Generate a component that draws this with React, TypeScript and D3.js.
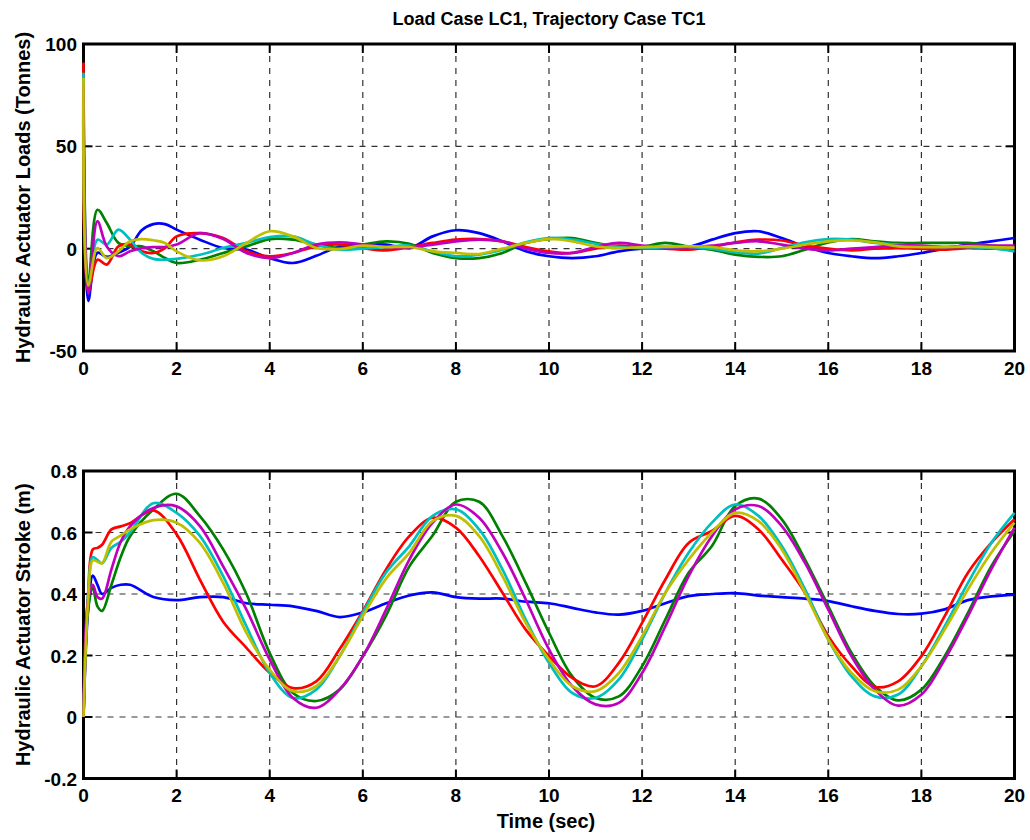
import React from "react";
import { scaleLinear, line, curveCatmullRom } from "d3";

// MATLAB default colour order
const seriesColors = ["#0000ff", "#008000", "#ff0000", "#00bfbf", "#bf00bf", "#bfbf00"];

// ---- top panel: actuator loads (tonnes)
const loadTime = [0, 0.1, 0.3, 0.5, 0.75, 1, 1.25, 1.5, 1.75, 2, 2.5, 3, 3.5, 4, 4.5, 5, 5.5, 6, 6.5, 7, 7.5, 8, 8.5, 9, 9.5, 10, 10.5, 11, 11.5, 12, 12.5, 13, 13.5, 14, 14.5, 15, 15.5, 16, 16.5, 17, 17.5, 18, 18.5, 19, 19.5, 20];
const loadBlue = [82, -25.5, -2, -4, -2, 1, 9, 12, 12, 9.3, 4.4, 0.3, -0.5, -4.6, -7, -3.5, 1, 2, 2, 0.3, 6, 9, 7.6, 3.6, -1.3, -3.7, -4.6, -3.7, -1.3, 0, 0.3, 0.8, 4.4, 7.6, 8.5, 5.2, 1.1, -2.1, -3.7, -4.6, -3.7, -2.1, 0, 2, 3.6, 5.2];
const loadGreen = [82, -18, 19, 12.5, 2.8, 1.1, 1.1, -1.3, -4.6, -7, -5.4, -2.1, 1.1, 4.7, 4.4, 2, 0.3, 2, 3.6, 2.4, -2.1, -4.6, -4.6, -2.1, 2.8, 4.7, 5.2, 2.8, 1.1, 1.1, 2.8, 1.1, -0.5, -2.9, -4, -3.7, -0.5, 3.1, 4.7, 3.6, 2.8, 2.8, 2.8, 2.8, 1.5, 0.3];
const loadRed = [91, -21, -5.4, -7.8, 1.1, 2, -1.3, -2.1, 0.3, 6, 7.6, 5.2, -1.3, -3.7, -2.1, 1.1, 2, 0.3, -0.8, 0.8, 2.8, 4.4, 4.7, 3.6, 0.8, -1.3, -2.1, 0, 1.5, 0.3, 0, -0.5, 0.8, 3.1, 4.4, 4, 1.5, 0, -0.8, 0, 0.3, 0, -0.5, 0.3, 0, 0];
const loadCyan = [86, -20, 4.4, 2, 9.3, 4.4, -2.1, -5, -5.4, -5, -3, 0.3, 2.8, 5.7, 6, 2, -0.5, 0, 0.8, 1.5, -1.3, -3.7, -2.9, -0.5, 3.1, 5.2, 4.4, 2.4, 0.8, 0.3, 0.5, 0.8, 0, -1.8, -2.4, 0.3, 3.1, 4.7, 4.4, 2.8, 2, 1.1, 0.8, 0.8, 0.3, -1.3];
const loadMagenta = [80, -22, 13.3, 1.1, -3.7, -1.3, 0.3, 0.8, 0.8, 2, 7.6, 4.7, -2.1, -4.6, -2.1, 2, 3.1, 2, 0.8, 0.8, 2, 3.6, 4.4, 3.6, 0, -2.1, -2.1, 0.8, 2.8, 1.5, 0.8, 0.8, 1.5, 2.8, 3.6, 2, 0, -0.8, 0, 0.8, 1.5, 1.5, 0.8, 1.5, 1.5, 1.5];
const loadYellow = [83.5, -18, 0.3, -4.6, -1.3, 3.6, 4.7, 4.1, 2.8, -1.3, -5.7, -3.7, 2.8, 8.5, 6, 0.3, -0.2, 1.5, 0.8, 0.8, -1.3, -2.1, -2.6, 0, 2.8, 4.7, 3.6, 1.1, 0.3, 0.8, 1, 1.1, 0.8, -0.8, -1.3, 0, 2, 3.6, 4, 3.1, 1.1, 0.8, 0.8, 1.1, 0.8, 0.5];

// ---- bottom panel: actuator stroke (m)
const strokeTime = [0, 0.1, 0.2, 0.3, 0.4, 0.6, 0.8, 1, 1.5, 2, 2.5, 3, 3.5, 4, 4.5, 5, 5.5, 6, 6.5, 7, 7.5, 8, 8.5, 9, 9.5, 10, 10.5, 11, 11.5, 12, 12.5, 13, 13.5, 14, 14.5, 15, 15.5, 16, 16.5, 17, 17.5, 18, 18.5, 19, 19.5, 20];
const strokeBlue = [0, 0.35, 0.46, 0.43, 0.4, 0.42, 0.43, 0.43, 0.39, 0.38, 0.39, 0.39, 0.37, 0.365, 0.36, 0.345, 0.325, 0.34, 0.37, 0.395, 0.405, 0.39, 0.385, 0.385, 0.375, 0.37, 0.355, 0.34, 0.333, 0.345, 0.37, 0.393, 0.4, 0.403, 0.395, 0.39, 0.385, 0.377, 0.36, 0.345, 0.335, 0.336, 0.35, 0.38, 0.392, 0.398];
const strokeGreen = [0, 0.35, 0.42, 0.36, 0.345, 0.43, 0.52, 0.588, 0.675, 0.726, 0.653, 0.545, 0.4, 0.208, 0.078, 0.052, 0.089, 0.197, 0.33, 0.49, 0.59, 0.7, 0.7, 0.588, 0.436, 0.274, 0.132, 0.062, 0.067, 0.165, 0.317, 0.469, 0.556, 0.686, 0.71, 0.643, 0.512, 0.36, 0.208, 0.1, 0.054, 0.089, 0.198, 0.339, 0.49, 0.605];
const strokeRed = [0, 0.4, 0.545, 0.55, 0.56, 0.61, 0.62, 0.63, 0.672, 0.594, 0.447, 0.31, 0.225, 0.144, 0.094, 0.116, 0.22, 0.344, 0.48, 0.588, 0.648, 0.616, 0.523, 0.404, 0.284, 0.198, 0.127, 0.1, 0.176, 0.306, 0.447, 0.566, 0.605, 0.654, 0.61, 0.512, 0.404, 0.263, 0.165, 0.098, 0.116, 0.198, 0.328, 0.469, 0.566, 0.643];
const strokeCyan = [0, 0.4, 0.52, 0.51, 0.5, 0.55, 0.57, 0.6, 0.695, 0.664, 0.589, 0.458, 0.295, 0.143, 0.062, 0.089, 0.197, 0.339, 0.47, 0.556, 0.654, 0.675, 0.61, 0.48, 0.317, 0.176, 0.078, 0.062, 0.122, 0.252, 0.404, 0.534, 0.632, 0.691, 0.654, 0.556, 0.415, 0.252, 0.132, 0.067, 0.073, 0.165, 0.295, 0.436, 0.566, 0.664];
const strokeMagenta = [0, 0.38, 0.43, 0.39, 0.385, 0.48, 0.57, 0.62, 0.68, 0.685, 0.621, 0.49, 0.349, 0.187, 0.062, 0.03, 0.089, 0.197, 0.349, 0.512, 0.632, 0.691, 0.648, 0.534, 0.382, 0.22, 0.1, 0.041, 0.046, 0.143, 0.295, 0.458, 0.588, 0.675, 0.686, 0.621, 0.501, 0.349, 0.197, 0.089, 0.037, 0.073, 0.187, 0.328, 0.48, 0.616];
const strokeYellow = [0, 0.38, 0.51, 0.505, 0.5, 0.57, 0.59, 0.61, 0.64, 0.632, 0.566, 0.436, 0.274, 0.154, 0.084, 0.1, 0.197, 0.328, 0.45, 0.534, 0.637, 0.654, 0.588, 0.458, 0.306, 0.187, 0.1, 0.084, 0.143, 0.263, 0.404, 0.512, 0.6, 0.664, 0.637, 0.545, 0.404, 0.252, 0.143, 0.084, 0.089, 0.165, 0.284, 0.415, 0.534, 0.632];

const timeTicks = [0, 2, 4, 6, 8, 10, 12, 14, 16, 18, 20];
const loadTicks = [-50, 0, 50, 100];
const strokeTicks = [-0.2, 0, 0.2, 0.4, 0.6, 0.8];

const FONT = "'Liberation Sans', Arial, sans-serif";

const Panel = ({ top, bottom, time, series, yDomain, yTicks, yLabel, fmt }) => {
  const left = 83.5;
  const right = 1014.5;
  const x = scaleLinear().domain([0, 20]).range([left, right]);
  const y = scaleLinear().domain(yDomain).range([bottom, top]);
  const path = line().x((d) => x(d[0])).y((d) => y(d[1])).curve(curveCatmullRom.alpha(0.5));
  const tl = 9;

  return (
    <g>
      {/* grid */}
      {timeTicks.filter((t) => t > 0 && t < 20).map((t) => (
        <line key={"gx" + t} x1={x(t)} x2={x(t)} y1={top} y2={bottom} stroke="#333" strokeWidth={1.2} strokeDasharray="6,6" />
      ))}
      {yTicks.filter((v, i) => i > 0 && i < yTicks.length - 1).map((v) => (
        <line key={"gy" + v} x1={left} x2={right} y1={y(v)} y2={y(v)} stroke="#333" strokeWidth={1.2} strokeDasharray="6,6" />
      ))}
      {/* ticks, labels and box */}
      {timeTicks.map((t) => (
        <g key={"tx" + t}>
          <line x1={x(t)} x2={x(t)} y1={bottom} y2={bottom - tl} stroke="#000" strokeWidth={2} />
          <line x1={x(t)} x2={x(t)} y1={top} y2={top + tl} stroke="#000" strokeWidth={2} />
          <text x={x(t)} y={bottom + 23.5} textAnchor="middle" fontSize={19} fontWeight="bold" fontFamily={FONT}>{t}</text>
        </g>
      ))}
      {yTicks.map((v) => (
        <g key={"ty" + v}>
          <line x1={left} x2={left + tl} y1={y(v)} y2={y(v)} stroke="#000" strokeWidth={2} />
          <line x1={right} x2={right - tl} y1={y(v)} y2={y(v)} stroke="#000" strokeWidth={2} />
          <text x={left - 6.5} y={y(v) + 7} textAnchor="end" fontSize={19} fontWeight="bold" fontFamily={FONT}>{fmt(v)}</text>
        </g>
      ))}
      <rect x={left} y={top} width={right - left} height={bottom - top} fill="none" stroke="#000" strokeWidth={3} />
      <text transform={`translate(30,${(top + bottom) / 2}) rotate(-90)`} textAnchor="middle" fontSize={20} fontWeight="bold" fontFamily={FONT}>{yLabel}</text>
      {/* data drawn over the axes, as MATLAB does */}
      {series.map((vals, i) => (
        <path key={i} d={path(vals.map((v, j) => [time[j], v]))} fill="none" stroke={seriesColors[i]} strokeWidth={2.7} strokeLinejoin="round" />
      ))}
    </g>
  );
};

export default function App() {
  return (
    <svg width={1030} height={840} style={{ position: "absolute", left: 0, top: 0, background: "#fff" }}>
      <rect width={1030} height={840} fill="#fff" />
      <text x={549} y={24.5} textAnchor="middle" fontSize={18} fontWeight="bold" fontFamily={FONT}>Load Case LC1, Trajectory Case TC1</text>
      <Panel
        top={44}
        bottom={351}
        time={loadTime}
        series={[loadBlue, loadGreen, loadRed, loadCyan, loadMagenta, loadYellow]}
        yDomain={[-50, 100]}
        yTicks={loadTicks}
        yLabel="Hydraulic Actuator Loads (Tonnes)"
        fmt={(v) => String(v)}
      />
      <Panel
        top={471}
        bottom={778.5}
        time={strokeTime}
        series={[strokeBlue, strokeGreen, strokeRed, strokeCyan, strokeMagenta, strokeYellow]}
        yDomain={[-0.2, 0.8]}
        yTicks={strokeTicks}
        yLabel="Hydraulic Actuator Stroke (m)"
        fmt={(v) => (v === 0 ? "0" : String(Math.round(v * 10) / 10))}
      />
      <text x={546} y={828} textAnchor="middle" fontSize={20} fontWeight="bold" fontFamily={FONT}>Time (sec)</text>
    </svg>
  );
}
